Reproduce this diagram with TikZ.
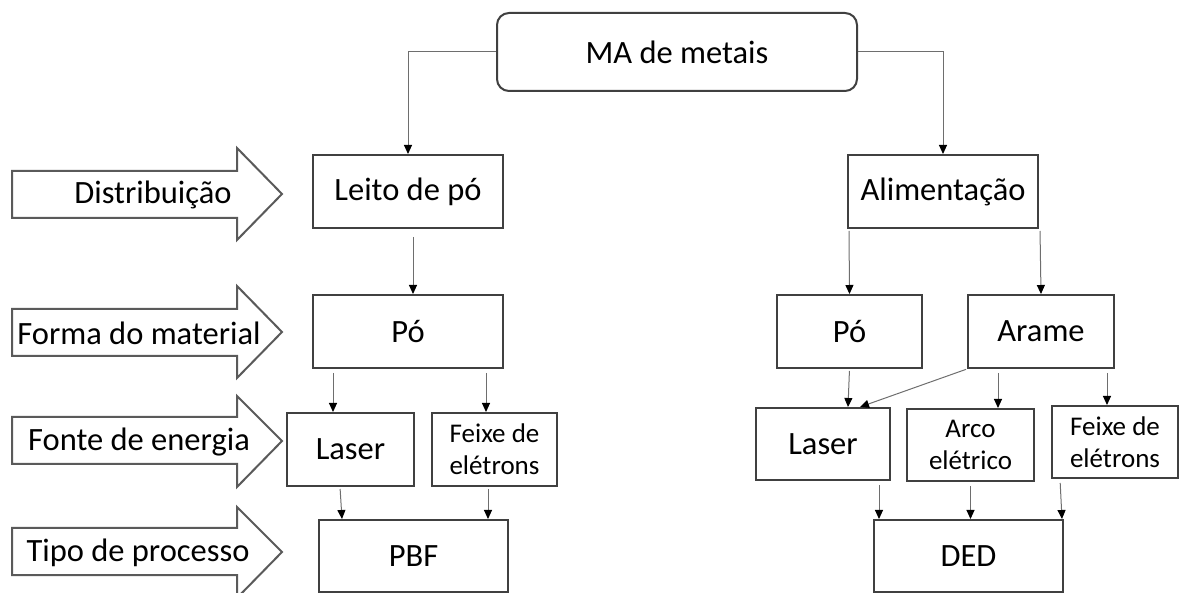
\documentclass[tikz,border=0pt]{standalone}
\usepackage{fontspec}
\setmainfont{Carlito}
\usetikzlibrary{arrows.meta,calc}
\definecolor{boxline}{RGB}{64,64,64}
\definecolor{connline}{RGB}{110,110,110}
\definecolor{shapeline}{RGB}{90,90,90}
\newcommand{\bigtxt}{\fontsize{32.5}{38}\selectfont}
\newcommand{\smalltxt}{\fontsize{27}{32}\selectfont}

\begin{document}
\begin{tikzpicture}[x=1pt,y=1pt,yscale=-1,
  box/.style={draw=boxline, line width=2pt, inner sep=0pt, align=center, font=\bigtxt},
  smallbox/.style={box, font=\smalltxt},
  conn/.style={draw=connline, line width=1pt, -{Triangle[length=9pt,width=8pt,color=black]}},
  barrow/.style={draw=shapeline, line width=2pt, line join=miter},
  blabel/.style={inner sep=0pt, font=\bigtxt}]
\useasboundingbox (0,0) rectangle (1179,593);

% block arrows on the left
\draw [barrow] (12,171) -- (237,171) -- (237,148) -- (282,194) -- (237,240) -- (237,218) -- (12,218) -- cycle ;
\draw [barrow] (12,309) -- (237,309) -- (237,286) -- (282,332) -- (237,378) -- (237,356) -- (12,356) -- cycle ;
\draw [barrow] (12,417) -- (237,417) -- (237,396) -- (282,441) -- (237,487) -- (237,464) -- (12,464) -- cycle ;
\draw [barrow] (12,528) -- (237,528) -- (237,507) -- (282,552) -- (237,598) -- (237,575) -- (12,575) -- cycle ;
\node [blabel] (distrib) at (153,195) {Distribuição};
\node [blabel] (forma) at (139,333) {Forma do material};
\node [blabel] (fonte) at (139,442) {Fonte de energia};
\node [blabel] (tipo) at (138,553) {Tipo de processo};

% boxes
\node [box, rounded corners=12pt, minimum width=360, minimum height=78] (ma) at (677,52) {MA de metais};
\node [box, minimum width=190, minimum height=73] (leito) at (408,191.5) {Leito de pó};
\node [box, minimum width=190, minimum height=73] (alim) at (943,191.5) {Alimentação};
\node [box, minimum width=190, minimum height=73] (pol) at (408,331.5) {Pó};
\node [box, minimum width=145, minimum height=73] (por) at (849.5,331.5) {Pó};
\node [box, minimum width=146, minimum height=73] (arame) at (1041,331.5) {Arame};
\node [box, minimum width=127, minimum height=73] (laserl) at (350.5,449.5) {Laser};
\node [smallbox, minimum width=125, minimum height=73] (feixel) at (494.5,449.5) {Feixe de\\elétrons};
\node [box, minimum width=134, minimum height=72] (laserr) at (823,444) {Laser};
\node [smallbox, minimum width=127, minimum height=72] (arco) at (970.5,445) {Arco\\elétrico};
\node [smallbox, minimum width=126, minimum height=72] (feixer) at (1115,442) {Feixe de\\elétrons};
\node [box, minimum width=189, minimum height=72] (pbf) at (413.5,556) {PBF};
\node [box, minimum width=189, minimum height=72] (ded) at (968.5,556) {DED};

% connectors
\draw [conn] (ma.west) -| (leito.north);
\draw [conn] (ma.east) -| (alim.north);
\draw [conn, shorten <=8pt] ($(leito.south)+(5,0)$) -- ($(pol.north)+(5,0)$);
\draw [conn, shorten <=4pt] ($(pol.south)+(-75,0)$) -- ($(laserl.north)+(-17.5,0)$);
\draw [conn, shorten <=4pt] ($(pol.south)+(78,0)$) -- ($(feixel.north)+(-8.5,0)$);
\draw [conn, shorten <=2pt] ($(laserl.south)+(-10.5,0)$) -- ($(pbf.north)+(-71.5,0)$);
\draw [conn, shorten <=2pt] ($(feixel.south)+(-6.5,0)$) -- ($(pbf.north)+(74.5,0)$);
\draw [conn, shorten <=2pt] ($(alim.south)+(-94,0)$) -- (por.north);
\draw [conn, shorten <=2pt] ($(alim.south)+(97,0)$) -- (arame.north);
\draw [conn, shorten <=2pt] (por.south) -- ($(laserr.north)+(25,0)$);
\draw [conn, shorten <=1pt] (arame.south west) -- ($(laserr.north)+(37,0)$);
\draw [conn, shorten <=4pt] ($(arame.south)+(-43,0)$) -- ($(arco.north)+(27.5,0)$);
\draw [conn, shorten <=4pt] ($(arame.south)+(66,0)$) -- ($(feixer.north)+(-8,0)$);
\draw [conn, shorten <=4pt] ($(laserr.south)+(56,0)$) -- ($(ded.north)+(-89.5,0)$);
\draw [conn, shorten <=4pt] (arco.south) -- ($(ded.north)+(2,0)$);
\draw [conn, shorten <=4pt] ($(feixer.south)+(-55,0)$) -- ($(ded.north)+(93.5,0)$);
\end{tikzpicture}
\end{document}
